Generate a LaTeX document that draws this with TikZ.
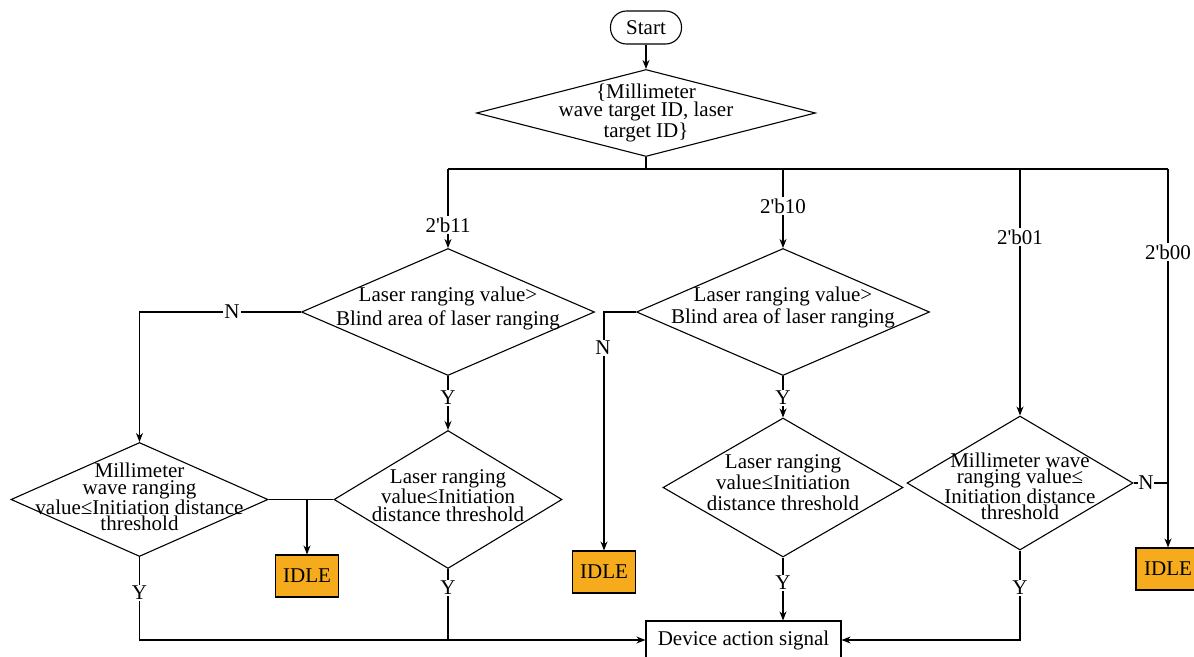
\documentclass[tikz,border=0pt]{standalone}
\usepackage{fontspec}
\setmainfont{Liberation Serif}
\usetikzlibrary{shapes.geometric,arrows.meta}
\definecolor{idleor}{RGB}{245,171,27}
\tikzset{
  base/.style={draw, line width=1.1pt, inner sep=0pt},
  dia/.style={base, diamond},
  dtext/.style={align=center, inner sep=0pt},
  idlebox/.style={base, rectangle, fill=idleor, minimum width=63pt, minimum height=42pt, font=\fontsize{21}{24}\selectfont},
  lbl/.style={fill=white, inner sep=1.5pt, font=\fontsize{21}{24}\selectfont},
  arr/.style={line width=1.1pt, -{Stealth[length=9pt,width=7pt]}},
  ln/.style={line width=1.1pt},
}
\begin{document}
\begin{tikzpicture}[x=1pt,y=-1pt]
\useasboundingbox (0,0) rectangle (1194,656);
\clip (0,0) rectangle (1194,656);
\fill[white] (0,0) rectangle (1194,656);

% nodes
\node[base, rectangle, rounded corners=16pt, minimum width=71pt, minimum height=33pt, font=\fontsize{21}{24}\selectfont] (start) at (646,27.5) {Start};
\node[dia, minimum width=339pt, minimum height=87pt,
  label={[dtext, font=\fontsize{21}{18}\selectfont]center:{\{Millimeter\\wave target ID, laser\\target ID\}}}] (D0) at (646,113) {};

\node[dia, minimum width=293pt, minimum height=127pt,
  label={[dtext, font=\fontsize{21}{24}\selectfont, yshift=3.5pt]center:{Laser ranging value>\\Blind area of laser ranging}}] (A) at (448,312) {};
\node[dia, minimum width=293pt, minimum height=127pt,
  label={[dtext, font=\fontsize{21}{22}\selectfont, yshift=4.5pt]center:{Laser ranging value>\\Blind area of laser ranging}}] (B) at (783,312) {};

\node[dia, minimum width=257pt, minimum height=114pt,
  label={[dtext, font=\fontsize{21}{16.5}\selectfont, yshift=2.5pt]center:{Millimeter\\wave ranging\\value≤Initiation distance\\threshold}}] (M1) at (139.5,499.5) {};
\node[dia, minimum width=228pt, minimum height=138pt,
  label={[dtext, font=\fontsize{21}{18}\selectfont, yshift=4pt]center:{Laser ranging\\value≤Initiation\\distance threshold}}] (L1) at (448,499.5) {};
\node[dia, minimum width=240pt, minimum height=139pt,
  label={[dtext, font=\fontsize{21}{21}\selectfont, yshift=4.5pt]center:{Laser ranging\\value≤Initiation\\distance threshold}}] (L2) at (783,487.5) {};
\node[dia, minimum width=226pt, minimum height=134pt,
  label={[dtext, font=\fontsize{21}{16.2}\selectfont, yshift=-3.5pt]center:{Millimeter wave\\ranging value≤\\Initiation distance\\threshold}}] (M2) at (1020,483) {};

\node[idlebox] (I1) at (307,576) {IDLE};
\node[idlebox] (I2) at (604,572) {IDLE};
\node[idlebox, minimum width=64pt] (I3) at (1168,569) {IDLE};

\node[base, rectangle, minimum width=195pt, minimum height=38pt, font=\fontsize{21}{24}\selectfont] (dev) at (743.5,640) {Device action signal};

% bus
\coordinate (j0) at (646,169);
\coordinate (b11) at (448,169);
\coordinate (b10) at (783,169);
\coordinate (b01) at (1020,169);
\coordinate (b00) at (1168,169);

\draw[arr] (start) -- (D0.north);
\draw[ln] (D0.south) -- (j0);
\draw[ln] (b11) -- (b00);
\draw[arr] (b11) -- (A.north);
\draw[arr] (b10) -- (B.north);
\draw[arr] (b01) -- (M2.north);
\draw[arr] (b00) -- (I3.north);

\draw[arr] (A.west) -| (M1.north);
\draw[arr] (A.south) -- (L1.north);
\draw[ln] (M1.east) -- (L1.west);
\draw[arr] (I1.north |- M1.east) -- (I1.north);
\draw[arr] (M1.south) |- (dev.west);
\draw[ln] (L1.south) -- (L1.south |- dev.west);

\draw[arr] (B.west) -| (I2.north);
\draw[arr] (B.south) -- (L2.north);
\draw[arr] (L2.south) -- (L2.south |- dev.north);

\draw[arr] (M2.south) |- (dev.east);
\draw[ln] (M2.east) -- (b00 |- M2.east);

% labels
\node[lbl] (t11) at (448,225) {2\textquotesingle b11};
\node[lbl] (t10) at (783,206) {2\textquotesingle b10};
\node[lbl] (t01) at (1020,237) {2\textquotesingle b01};
\node[lbl] (t00) at (1168,252) {2\textquotesingle b00};
\node[lbl] (nA) at (232,312) {N};
\node[lbl] (nB) at (603,348) {N};
\node[lbl, inner sep=0.5pt] (nE) at (1146,483) {N};
\node[lbl] (yA) at (448,398) {Y};
\node[lbl] (yB) at (783,398) {Y};
\node[lbl] (yM1) at (139.5,593) {Y};
\node[lbl] (yL1) at (448,588) {Y};
\node[lbl] (yL2) at (783,583) {Y};
\node[lbl] (yM2) at (1020,588) {Y};
\end{tikzpicture}
\end{document}
